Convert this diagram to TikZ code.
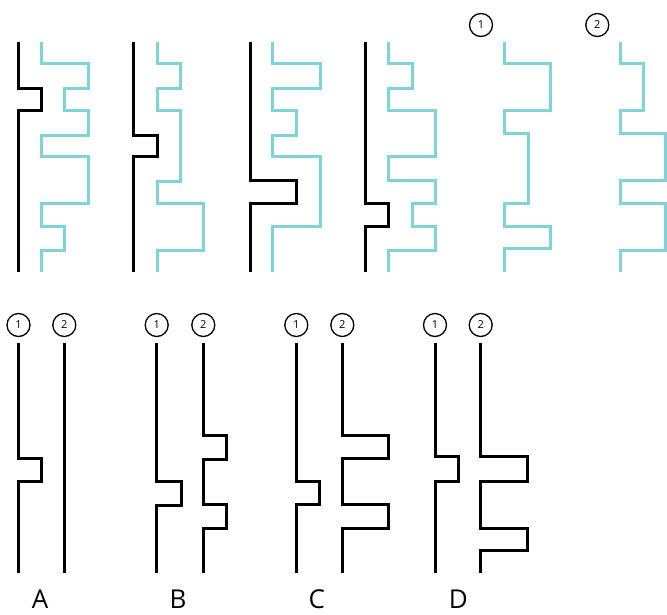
\documentclass[tikz,border=0pt]{standalone}
\usepackage{fontspec}
\setmainfont{Open Sans}
\definecolor{cy}{RGB}{126,212,216}
\begin{document}
\begin{tikzpicture}[x=1pt,y=-1pt,
  blk/.style={line width=3pt,black},
  cyn/.style={line width=3pt,cy},
  num/.style={circle,draw,line width=1.3pt,minimum size=23pt,inner sep=0pt,font=\fontsize{11}{11}\selectfont},
  lbl/.style={font=\fontsize{26}{26}\selectfont,inner sep=0pt,anchor=base}]
\useasboundingbox (0,0) rectangle (667,614);
% ---------- top row ----------
% panel 1
\draw[blk] (18,41.7) -- (18,88.3) -- (41,88.3) -- (41,110) -- (18,110) -- (18,271.7);
\draw[cyn] (41,41.7) -- (41,63.3) -- (88,63.3) -- (88,88.3) -- (64,88.3) -- (64,110) -- (88,110) -- (88,135) -- (41,135) -- (41,156.7) -- (88,156.7) -- (88,203.3) -- (41,203.3) -- (41,226.7) -- (64,226.7) -- (64,250) -- (41,250) -- (41,271.7);
% panel 2
\draw[blk] (133.5,41.7) -- (133.5,135) -- (157,135) -- (157,156.7) -- (133.5,156.7) -- (133.5,271.7);
\draw[cyn] (157,41.7) -- (157,63.3) -- (180,63.3) -- (180,88.3) -- (157,88.3) -- (157,110) -- (180,110) -- (180,181.7) -- (157,181.7) -- (157,203.3) -- (203.5,203.3) -- (203.5,250) -- (157,250) -- (157,271.7);
% panel 3
\draw[blk] (250,41.7) -- (250,180.7) -- (296.7,180.7) -- (296.7,203.3) -- (250,203.3) -- (250,271.7);
\draw[cyn] (272.5,41.7) -- (272.5,63.3) -- (320,63.3) -- (320,88.3) -- (272.5,88.3) -- (272.5,110) -- (296.7,110) -- (296.7,135) -- (272.5,135) -- (272.5,156.7) -- (320,156.7) -- (320,226.7) -- (272.5,226.7) -- (272.5,271.7);
% panel 4
\draw[blk] (365.7,41.7) -- (365.7,203.3) -- (388.3,203.3) -- (388.3,226.7) -- (365.7,226.7) -- (365.7,271.7);
\draw[cyn] (388.3,41.7) -- (388.3,63.3) -- (412.3,63.3) -- (412.3,88.3) -- (388.3,88.3) -- (388.3,110) -- (435,110) -- (435,156.7) -- (388.3,156.7) -- (388.3,180) -- (435,180) -- (435,203.3) -- (412.3,203.3) -- (412.3,226.7) -- (435,226.7) -- (435,250) -- (388.3,250) -- (388.3,271.7);
% panel 5
\node[num] (t1) at (481,25) {1};
\draw[cyn] (504.3,41.7) -- (504.3,63.3) -- (550.7,63.3) -- (550.7,110) -- (504.3,110) -- (504.3,133.3) -- (528.3,133.3) -- (528.3,203.3) -- (504.3,203.3) -- (504.3,226.7) -- (550.7,226.7) -- (550.7,248.3) -- (504.3,248.3) -- (504.3,271.7);
% panel 6
\node[num] (t2) at (597.3,25) {2};
\draw[cyn] (620,41.7) -- (620,63.3) -- (643.3,63.3) -- (643.3,110) -- (620,110) -- (620,133.3) -- (665.3,133.3) -- (665.3,180) -- (620,180) -- (620,203.3) -- (665.3,203.3) -- (665.3,250) -- (620,250) -- (620,271.7);
% ---------- bottom row ----------
% A
\node[num] (a1) at (18.5,325) {1};
\node[num] (a2) at (64.3,325) {2};
\draw[blk] (18.5,343.3) -- (18.5,458.3) -- (41.7,458.3) -- (41.7,481.7) -- (18.5,481.7) -- (18.5,573.3);
\draw[blk] (64.3,343.3) -- (64.3,573.3);
\node[lbl] (la) at (40,608.5) {A};
% B
\node[num] (b1) at (156.7,325) {1};
\node[num] (b2) at (203.3,325) {2};
\draw[blk] (156.7,343.3) -- (156.7,481.7) -- (181,481.7) -- (181,505.5) -- (156.7,505.5) -- (156.7,573.3);
\draw[blk] (203.3,343.3) -- (203.3,435) -- (226.7,435) -- (226.7,459.3) -- (203.3,459.3) -- (203.3,504) -- (226.7,504) -- (226.7,528.3) -- (203.3,528.3) -- (203.3,573.3);
\node[lbl] (lb) at (178,608.5) {B};
% C
\node[num] (c1) at (296.3,325) {1};
\node[num] (c2) at (342.3,325) {2};
\draw[blk] (296.3,343.3) -- (296.3,481.7) -- (319.3,481.7) -- (319.3,504) -- (296.3,504) -- (296.3,573.3);
\draw[blk] (342.3,343.3) -- (342.3,435) -- (388.3,435) -- (388.3,458.3) -- (342.3,458.3) -- (342.3,504) -- (388.3,504) -- (388.3,528.3) -- (342.3,528.3) -- (342.3,573.3);
\node[lbl] (lc) at (316.7,608.5) {C};
% D
\node[num] (d1) at (435,325) {1};
\node[num] (d2) at (480.7,325) {2};
\draw[blk] (435,343.3) -- (435,456.7) -- (458.3,456.7) -- (458.3,481.7) -- (435,481.7) -- (435,573.3);
\draw[blk] (480.7,343.3) -- (480.7,456.7) -- (527.3,456.7) -- (527.3,481.7) -- (480.7,481.7) -- (480.7,528.3) -- (527.3,528.3) -- (527.3,550.7) -- (480.7,550.7) -- (480.7,573.3);
\node[lbl] (ld) at (458.3,608.5) {D};
\end{tikzpicture}
\end{document}
